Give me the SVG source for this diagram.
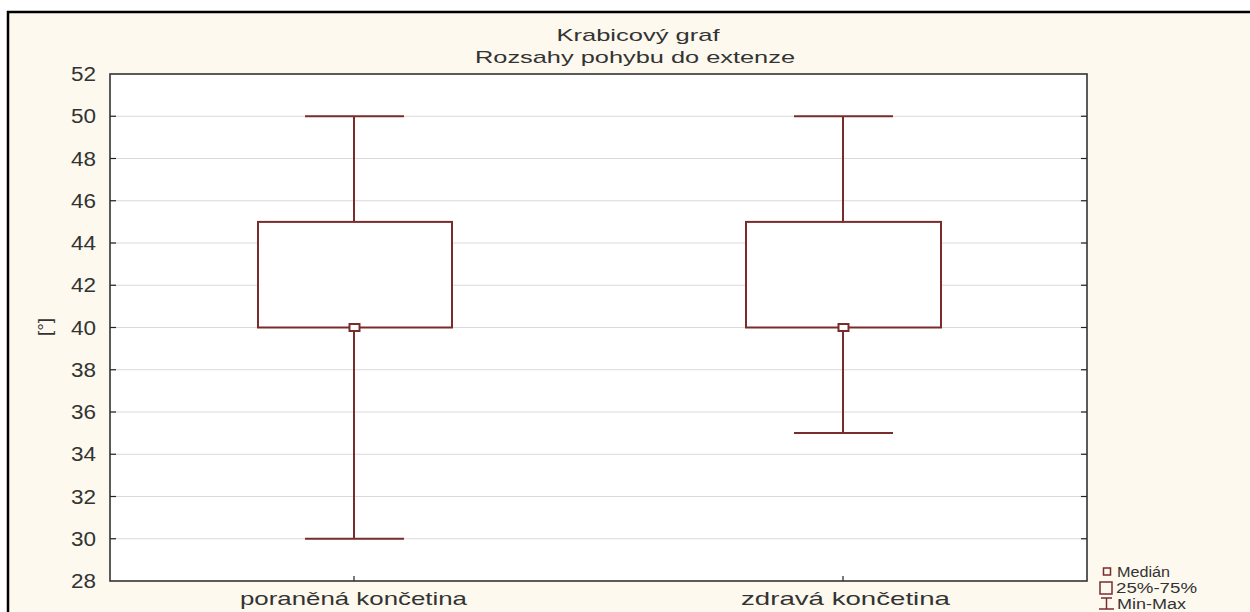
<svg xmlns="http://www.w3.org/2000/svg" width="1250" height="612" viewBox="0 0 1250 612">
  <style>
    text { font-family: "Liberation Sans", Arial, sans-serif; fill: #333333; }
    .title { font-size: 17px; text-anchor: middle; }
    .tick { font-size: 20px; text-anchor: end; }
    .xlab { font-size: 19px; text-anchor: middle; }
    .leg { font-size: 14px; }
    .grid { stroke: #d9d9d9; stroke-width: 1; }
    .tk { stroke: #222; stroke-width: 1.2; }
    .bx { stroke: #7a2c2c; stroke-width: 2; fill: none; }
    .bxf { stroke: #7a2c2c; stroke-width: 2; fill: #ffffff; }
    .lg { fill: none; stroke: #7a2c2c; stroke-width: 1.5; }
  </style>
  <rect x="0" y="0" width="1250" height="612" fill="#ffffff"/>
  <rect x="8" y="12" width="1260" height="620" fill="#fdf9ee" stroke="#000" stroke-width="2.5"/>

  <g id="title">
    <text class="title" x="638" y="41" textLength="163" lengthAdjust="spacingAndGlyphs">Krabicový graf</text>
    <text class="title" x="635" y="63" textLength="320" lengthAdjust="spacingAndGlyphs">Rozsahy pohybu do extenze</text>
  </g>

  <g id="plot-area">
    <rect x="110" y="74" width="977" height="507" fill="#ffffff"/>
    <g id="gridlines">
      <line class="grid" x1="110" y1="116.25" x2="1087" y2="116.25"/>
      <line class="grid" x1="110" y1="158.5" x2="1087" y2="158.5"/>
      <line class="grid" x1="110" y1="200.75" x2="1087" y2="200.75"/>
      <line class="grid" x1="110" y1="243" x2="1087" y2="243"/>
      <line class="grid" x1="110" y1="285.25" x2="1087" y2="285.25"/>
      <line class="grid" x1="110" y1="327.5" x2="1087" y2="327.5"/>
      <line class="grid" x1="110" y1="369.75" x2="1087" y2="369.75"/>
      <line class="grid" x1="110" y1="412" x2="1087" y2="412"/>
      <line class="grid" x1="110" y1="454.25" x2="1087" y2="454.25"/>
      <line class="grid" x1="110" y1="496.5" x2="1087" y2="496.5"/>
      <line class="grid" x1="110" y1="538.75" x2="1087" y2="538.75"/>
    </g>
    <g id="ticks">
      <line class="tk" x1="110" y1="116.25" x2="116" y2="116.25"/>
      <line class="tk" x1="110" y1="158.5" x2="116" y2="158.5"/>
      <line class="tk" x1="110" y1="200.75" x2="116" y2="200.75"/>
      <line class="tk" x1="110" y1="243" x2="116" y2="243"/>
      <line class="tk" x1="110" y1="285.25" x2="116" y2="285.25"/>
      <line class="tk" x1="110" y1="327.5" x2="116" y2="327.5"/>
      <line class="tk" x1="110" y1="369.75" x2="116" y2="369.75"/>
      <line class="tk" x1="110" y1="412" x2="116" y2="412"/>
      <line class="tk" x1="110" y1="454.25" x2="116" y2="454.25"/>
      <line class="tk" x1="110" y1="496.5" x2="116" y2="496.5"/>
      <line class="tk" x1="110" y1="538.75" x2="116" y2="538.75"/>
      <line class="tk" x1="1081" y1="116.25" x2="1087" y2="116.25"/>
      <line class="tk" x1="1081" y1="158.5" x2="1087" y2="158.5"/>
      <line class="tk" x1="1081" y1="200.75" x2="1087" y2="200.75"/>
      <line class="tk" x1="1081" y1="243" x2="1087" y2="243"/>
      <line class="tk" x1="1081" y1="285.25" x2="1087" y2="285.25"/>
      <line class="tk" x1="1081" y1="327.5" x2="1087" y2="327.5"/>
      <line class="tk" x1="1081" y1="369.75" x2="1087" y2="369.75"/>
      <line class="tk" x1="1081" y1="412" x2="1087" y2="412"/>
      <line class="tk" x1="1081" y1="454.25" x2="1087" y2="454.25"/>
      <line class="tk" x1="1081" y1="496.5" x2="1087" y2="496.5"/>
      <line class="tk" x1="1081" y1="538.75" x2="1087" y2="538.75"/>
      <line class="tk" x1="354" y1="581" x2="354" y2="576"/>
      <line class="tk" x1="843" y1="581" x2="843" y2="576"/>
    </g>
    <rect x="110" y="74" width="977" height="507" fill="none" stroke="#333" stroke-width="1.6"/>
  </g>

  <g id="y-axis-labels">
    <text class="tick" x="96" y="81" textLength="25" lengthAdjust="spacingAndGlyphs">52</text>
    <text class="tick" x="96" y="123.25" textLength="25" lengthAdjust="spacingAndGlyphs">50</text>
    <text class="tick" x="96" y="165.5" textLength="25" lengthAdjust="spacingAndGlyphs">48</text>
    <text class="tick" x="96" y="207.75" textLength="25" lengthAdjust="spacingAndGlyphs">46</text>
    <text class="tick" x="96" y="250" textLength="25" lengthAdjust="spacingAndGlyphs">44</text>
    <text class="tick" x="96" y="292.25" textLength="25" lengthAdjust="spacingAndGlyphs">42</text>
    <text class="tick" x="96" y="334.5" textLength="25" lengthAdjust="spacingAndGlyphs">40</text>
    <text class="tick" x="96" y="376.75" textLength="25" lengthAdjust="spacingAndGlyphs">38</text>
    <text class="tick" x="96" y="419" textLength="25" lengthAdjust="spacingAndGlyphs">36</text>
    <text class="tick" x="96" y="461.25" textLength="25" lengthAdjust="spacingAndGlyphs">34</text>
    <text class="tick" x="96" y="503.5" textLength="25" lengthAdjust="spacingAndGlyphs">32</text>
    <text class="tick" x="96" y="545.75" textLength="25" lengthAdjust="spacingAndGlyphs">30</text>
    <text class="tick" x="96" y="588" textLength="25" lengthAdjust="spacingAndGlyphs">28</text>
    <text class="xlab" transform="translate(51,327) rotate(-90)" x="0" y="0">[°]</text>
  </g>

  <g id="x-axis-labels">
    <text class="xlab" x="353.5" y="605" textLength="227" lengthAdjust="spacingAndGlyphs">poraněná končetina</text>
    <text class="xlab" x="845.5" y="605" textLength="209" lengthAdjust="spacingAndGlyphs">zdravá končetina</text>
  </g>

  <g id="connectors">
    <line class="bx" x1="354" y1="116.25" x2="354" y2="221.9"/>
    <line class="bx" x1="354" y1="327.5" x2="354" y2="538.75"/>
    <line class="bx" x1="305" y1="116.25" x2="404" y2="116.25"/>
    <line class="bx" x1="305" y1="538.75" x2="404" y2="538.75"/>
    <line class="bx" x1="843" y1="116.25" x2="843" y2="221.9"/>
    <line class="bx" x1="843" y1="327.5" x2="843" y2="433.1"/>
    <line class="bx" x1="794" y1="116.25" x2="893" y2="116.25"/>
    <line class="bx" x1="794" y1="433.1" x2="893" y2="433.1"/>
  </g>

  <g id="box-poranena">
    <rect class="bxf" x="258" y="221.9" width="194" height="105.6"/>
    <rect class="bxf" x="349.5" y="324" width="10" height="7"/>
  </g>

  <g id="box-zdrava">
    <rect class="bxf" x="746" y="221.9" width="195" height="105.6"/>
    <rect class="bxf" x="838.5" y="324" width="10" height="7"/>
  </g>

  <g id="legend">
    <rect class="lg" x="1103.5" y="568" width="7" height="7"/>
    <text class="leg" x="1117" y="577" textLength="53" lengthAdjust="spacingAndGlyphs">Medián</text>
    <rect class="lg" x="1100" y="582" width="12" height="12"/>
    <text class="leg" x="1116" y="593" textLength="81" lengthAdjust="spacingAndGlyphs">25%-75%</text>
    <line class="lg" x1="1101" y1="598" x2="1112" y2="598"/>
    <line class="lg" x1="1106.5" y1="598" x2="1106.5" y2="609"/>
    <line class="lg" x1="1099" y1="609" x2="1114" y2="609"/>
    <text class="leg" x="1117" y="609" textLength="69" lengthAdjust="spacingAndGlyphs">Min-Max</text>
  </g>
</svg>
